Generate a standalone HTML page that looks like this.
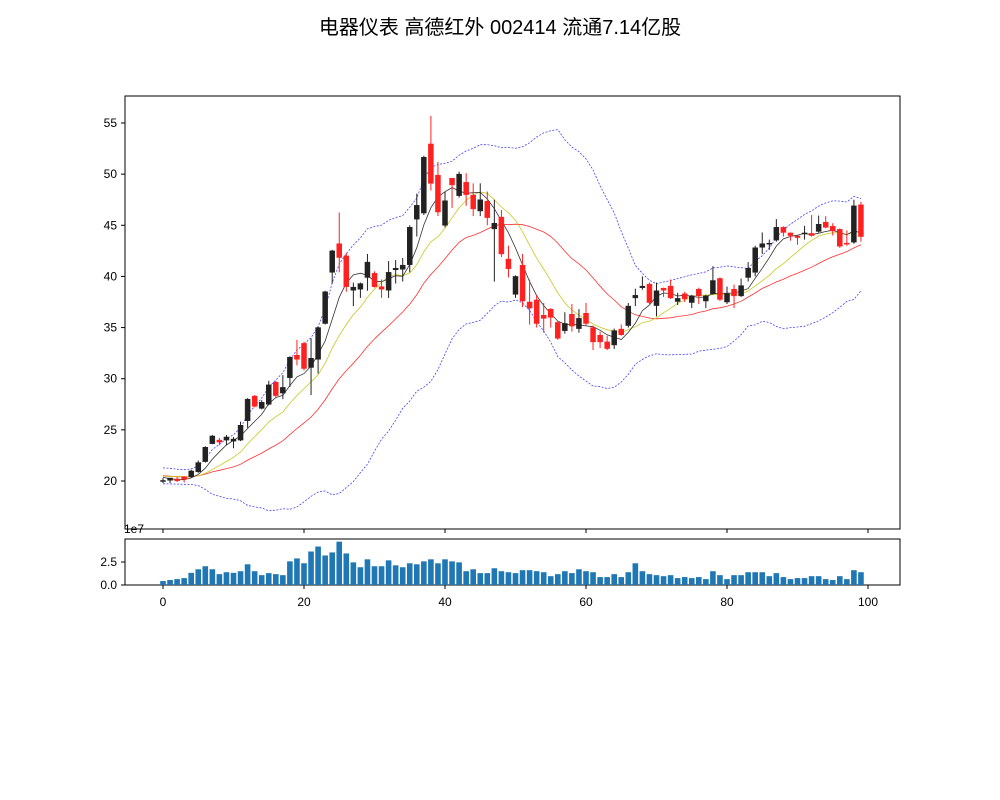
<!DOCTYPE html>
<html><head><meta charset="utf-8">
<style>
html,body{margin:0;padding:0;background:#fff;}
svg{display:block;font-family:"Liberation Sans","Noto Sans CJK SC",sans-serif;}
</style></head>
<body>
<svg id="chart" width="1000" height="800" viewBox="0 0 1000 800" xmlns="http://www.w3.org/2000/svg">
<rect width="1000" height="800" fill="#fff"/>
<text x="500" y="34" text-anchor="middle" font-size="20" font-family="'Liberation Sans','Noto Sans CJK SC',sans-serif">电器仪表 高德红外 002414 流通7.14亿股</text>
<g id="main"></g>
<g id="vol"></g>
</svg>
<script>
const opens  = [20.0,20.07,20.2,20.42,20.42,20.9,21.9,23.65,24.0,24.0,23.9,24.0,25.9,28.3,27.1,27.5,29.65,28.6,30.1,32.3,33.45,31.1,31.9,35.4,40.4,43.2,42.0,38.65,38.75,39.9,40.3,39.0,38.65,40.65,40.7,41.15,45.6,46.2,52.95,49.9,45.0,49.6,47.9,49.2,47.95,46.4,47.35,44.65,45.8,41.7,38.25,41.1,37.5,37.7,36.2,36.8,35.5,34.7,36.3,34.9,36.4,35.0,34.25,33.6,33.3,34.85,35.2,37.9,38.9,39.25,37.15,38.85,39.05,37.55,38.3,37.45,38.75,37.6,38.3,39.8,37.5,38.75,38.1,39.9,40.4,42.85,43.15,43.55,44.8,44.25,43.95,44.15,44.2,44.4,45.3,44.9,44.6,43.25,43.35,47.0];
const closes = [20.05,20.29,20.03,20.17,20.98,21.8,23.3,24.4,23.8,24.3,24.1,25.45,28.0,27.3,27.7,29.4,28.35,29.15,32.1,31.9,31.0,32.0,35.0,38.5,42.5,41.85,39.0,38.95,39.3,41.4,39.0,38.75,40.4,40.8,41.1,44.8,46.95,51.65,49.1,46.3,47.4,48.95,50.0,48.0,46.6,47.5,45.75,45.2,42.2,40.75,40.0,37.6,36.9,35.4,35.9,36.0,33.95,35.4,35.15,35.9,35.4,33.6,33.6,32.95,34.7,34.3,37.1,38.15,39.05,37.45,38.6,38.65,37.9,37.85,37.8,38.1,38.1,38.1,39.6,37.75,38.3,38.1,39.1,40.8,42.8,43.2,43.25,44.8,44.3,44.0,43.8,44.25,44.0,45.1,44.8,44.45,42.95,43.15,46.9,43.9];
const highs  = [20.3,20.3,20.4,20.45,21.1,22.0,23.4,24.5,24.2,24.5,24.3,25.8,28.1,28.4,27.9,29.8,29.8,30.36,32.2,33.8,33.6,33.95,35.1,38.6,42.6,46.25,42.3,39.4,39.4,42.2,40.5,39.7,41.5,41.6,41.8,45.0,48.1,51.8,55.7,51.2,48.3,49.6,50.25,50.1,49.1,49.1,48.3,47.5,46.5,43.0,40.1,42.2,39.7,38.2,37.4,36.9,35.6,36.5,37.3,36.8,37.4,35.2,34.6,34.2,34.9,35.3,37.4,38.8,40.0,39.4,39.4,38.9,39.7,38.4,38.5,38.2,38.9,38.2,41.0,39.9,39.0,39.2,39.8,41.4,43.0,44.3,43.6,45.6,44.9,44.3,44.0,44.95,46.0,45.95,45.9,45.2,44.7,44.5,47.5,47.3];
const lows   = [19.8,19.8,19.9,19.85,20.3,20.8,21.8,23.6,23.5,23.5,23.2,23.9,25.2,27.2,27.0,27.4,28.2,28.0,29.2,31.3,30.8,28.4,30.5,35.3,39.3,40.4,38.5,37.1,37.9,38.6,38.9,37.9,37.9,39.3,39.5,40.4,43.9,46.0,48.4,45.9,44.8,46.7,47.7,46.9,45.9,45.9,45.0,39.5,41.9,39.9,37.9,37.0,35.3,35.0,34.5,35.0,33.8,34.4,34.6,34.5,35.2,32.8,33.0,32.8,32.9,34.2,35.0,37.1,38.7,37.3,36.1,38.0,37.8,37.2,37.5,36.9,37.3,36.9,38.2,37.6,37.3,36.9,38.0,39.5,40.0,42.2,42.6,43.4,43.9,43.5,43.1,43.6,43.9,44.3,44.7,44.0,42.8,43.0,43.2,43.4];
const volumes = [0.43,0.54,0.64,0.75,1.32,1.71,2.04,1.71,1.18,1.39,1.32,1.5,2.25,1.5,1.07,1.29,1.18,1.07,2.57,2.89,2.36,3.64,4.18,3.21,3.54,4.71,3.43,2.46,1.93,2.79,2.04,2.04,2.68,2.14,1.93,2.36,2.25,2.57,2.79,2.36,2.79,2.57,2.46,1.5,1.71,1.29,1.29,1.82,1.5,1.39,1.29,1.61,1.61,1.5,1.39,0.96,1.18,1.5,1.29,1.71,1.5,1.39,0.86,0.86,1.18,0.86,1.39,2.36,1.5,1.18,1.07,0.96,1.07,0.75,0.86,0.75,0.86,0.64,1.5,1.07,0.64,1.07,1.07,1.39,1.39,1.39,0.96,1.29,0.86,0.64,0.75,0.75,0.96,0.96,0.64,0.54,0.96,0.64,1.61,1.39];
const priorCloses = [20.9,21.1,20.8,20.4,20.1,19.9,20.2,20.6,21.0,20.7,20.3,20.0,20.4,20.8,21.2,20.9,20.5,20.2,20.1];
const yTicks = [20,25,30,35,40,45,50,55];
const xTicks = [0,20,40,60,80,100];
const volTicks = [0,2.5];
const volTickLabels = ['0.0','2.5'];

const NS='http://www.w3.org/2000/svg';
const AX={l:125,r:900,t:96,b:529};
const VX={t:539,b:585};
function xs(i){return 163+(868-163)*i/100;}
function ys(p){return 481-(p-20)*(481-123)/35;}
function vs(v){return 585-v*23/2.5;}
function mk(tag,attrs,parent){const e=document.createElementNS(NS,tag);for(const k in attrs)e.setAttribute(k,attrs[k]);parent.appendChild(e);return e;}
const main=document.getElementById('main'), vol=document.getElementById('vol');

// axes frames
let f=mk('rect',{x:AX.l,y:AX.t,width:AX.r-AX.l,height:AX.b-AX.t,fill:'none',stroke:'#000','stroke-width':1},main);


let f2=mk('rect',{x:AX.l,y:VX.t,width:AX.r-AX.l,height:VX.b-VX.t,fill:'none',stroke:'#000','stroke-width':1},vol);



// y ticks
yTicks.forEach(v=>{const y=ys(v);
 mk('line',{x1:AX.l-4,x2:AX.l,y1:y,y2:y,stroke:'#000'},main);
 const t=mk('text',{x:AX.l-8,y:y+4,'text-anchor':'end','font-size':12},main);t.textContent=v;
 
 
});
xTicks.forEach(v=>{const x=xs(v);
 mk('line',{x1:x,x2:x,y1:AX.b,y2:AX.b+4,stroke:'#000'},main);
 mk('line',{x1:x,x2:x,y1:VX.b,y2:VX.b+4,stroke:'#000'},vol);
 const t=mk('text',{x:x,y:VX.b+21,'text-anchor':'middle','font-size':12},vol);t.textContent=v;
 
 
});
volTicks.forEach((v,k)=>{const y=vs(v);
 mk('line',{x1:AX.l-4,x2:AX.l,y1:y,y2:y,stroke:'#000'},vol);
 const t=mk('text',{x:AX.l-8,y:y+4,'text-anchor':'end','font-size':12},vol);t.textContent=volTickLabels[k];
 
 
});
let oe=mk('text',{x:124,y:533,'font-size':12},vol);oe.textContent='1e7';



// indicators
const all=priorCloses.concat(closes), P=priorCloses.length;
function ma(n,i){let s=0,c=0;for(let k=Math.max(0,i+P-n+1);k<=i+P;k++){s+=all[k];c++;}return s/c;}
function sd(n,i){const m=ma(n,i);let s=0,c=0;for(let k=Math.max(0,i+P-n+1);k<=i+P;k++){s+=(all[k]-m)**2;c++;}return Math.sqrt(s/c);}
function line(fn,color,name,dash,w){let d='';for(let i=0;i<closes.length;i++){d+=(i?'L':'M')+xs(i).toFixed(1)+','+ys(fn(i)).toFixed(1);}
 const p=mk('path',{d:d,fill:'none',stroke:color,'stroke-width':w||0.8},main);if(dash)p.setAttribute('stroke-dasharray',dash);
 
 }
line(i=>ma(20,i)+2*sd(20,i),'#4444ff','boll-upper','2,1.5',0.8);
line(i=>ma(20,i)-2*sd(20,i),'#4444ff','boll-lower','2,1.5',0.8);
line(i=>ma(20,i),'#ff3030','ma20-line');
line(i=>ma(10,i),'#c8c820','ma10-line');
line(i=>ma(5,i),'#333','ma5-line');

// candles
const cw=5;
closes.forEach((c,i)=>{const o=opens[i],up=c>=o,col=up?'#222':'#ff2020';const x=xs(i);
 const g=mk('g',{},main);
 
 
 mk('line',{x1:x,x2:x,y1:ys(highs[i]),y2:ys(lows[i]),stroke:col,'stroke-width':1},g);
 const top=ys(Math.max(o,c)),bot=ys(Math.min(o,c));
 mk('rect',{x:x-cw/2,y:top,width:cw,height:Math.max(1,bot-top),fill:col,stroke:col,'stroke-width':0.5},g);
});
// volume bars
volumes.forEach((v,i)=>{const b=mk('rect',{x:xs(i)-2.8,y:vs(v),width:5.6,height:585-vs(v),fill:'#1f77b4'},vol);
 
 
});
</script>
</body></html>
